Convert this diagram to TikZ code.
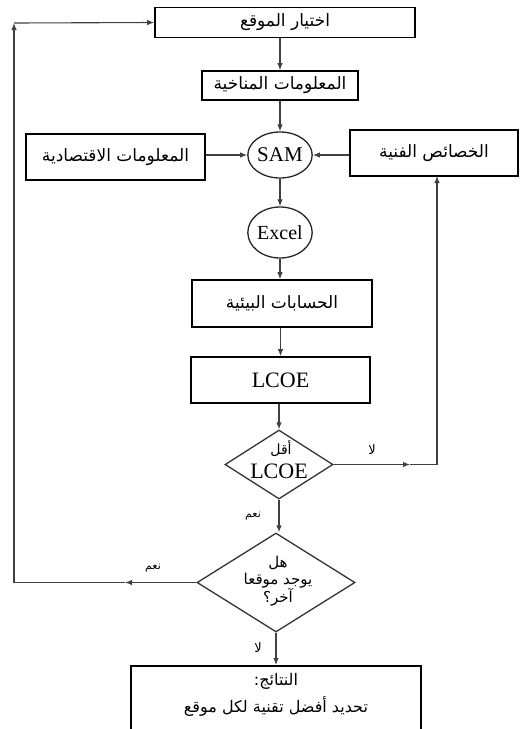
\documentclass[tikz,border=0pt]{standalone}
\usepackage{fontspec}
\setmainfont{Liberation Serif}
\newfontfamily\arabicfont[Script=Arabic]{DejaVu Sans}
\TeXXeTstate=1
\usetikzlibrary{shapes.geometric,arrows.meta}
\tikzset{
  boxnode/.style={draw=black,line width=1.6pt,rectangle,inner sep=0pt,font=\arabicfont\fontsize{17}{20}\selectfont},
  ellnode/.style={draw=black!85,line width=1.3pt,ellipse,inner sep=0pt,font=\fontsize{21}{24}\selectfont},
  dianode/.style={draw=black!80,line width=1.3pt,diamond,inner sep=0pt,aspect=1},
  txt/.style={inner sep=0pt,align=center},
  lab/.style={inner sep=0pt,font=\arabicfont\fontsize{11}{12}\selectfont},
  conn/.style={draw=black!75,line width=1.1pt},
  arr/.style={conn,-{Latex[length=7pt,width=5.5pt]}},
}
\begin{document}
\begin{tikzpicture}[x=1pt,y=-1pt]
\useasboundingbox (0,0) rectangle (522,729);
\clip (0,0) rectangle (522,729);
% nodes
\node[boxnode,minimum width=260pt,minimum height=30pt] (box1) at (285,22.5) {\beginR اختيار الموقع\endR};
\node[boxnode,minimum width=156pt,minimum height=29pt] (box2) at (280,85.5) {\beginR المعلومات المناخية\endR};
\node[boxnode,minimum width=179pt,minimum height=46pt] (econ) at (115.5,157) {\beginR المعلومات الاقتصادية\endR};
\node[boxnode,minimum width=168pt,minimum height=46pt] (tech) at (434,153) {\beginR الخصائص الفنية\endR};
\node[ellnode,minimum width=64pt,minimum height=46pt] (sam) at (280,155) {SAM};
\node[ellnode,minimum width=64pt,minimum height=51pt,font=\fontsize{20}{24}\selectfont] (excel) at (280,232.5) {Excel};
\node[boxnode,minimum width=180pt,minimum height=47pt] (env) at (282,303.5) {\beginR الحسابات البيئية\endR};
\node[boxnode,minimum width=179pt,minimum height=46pt,font=\fontsize{22}{24}\selectfont] (lcoe) at (280.5,380) {LCOE};
\node[dianode,minimum width=108pt,minimum height=69pt] (d1) at (279,464.5) {};
\node[txt,font=\arabicfont\fontsize{14}{16}\selectfont] (d1a) at (281,449) {\beginR أقل\endR};
\node[txt,font=\fontsize{22}{24}\selectfont] (d1b) at (279,471) {LCOE};
\node[dianode,minimum width=158pt,minimum height=99pt] (d2) at (276,582.5) {};
\node[txt,font=\arabicfont\fontsize{15}{17}\selectfont] (d2t) at (278,581) {\beginR هل\endR\\\beginR يوجد موقعا\endR\\\beginR آخر؟\endR};
\node[boxnode,minimum width=290pt,minimum height=110pt,anchor=north] (res) at (276,665) {};
\node[txt,font=\arabicfont\fontsize{16}{27}\selectfont] (rest) at (276,695) {\beginR النتائج:\endR\\\beginR تحديد أفضل تقنية لكل موقع\endR};
% labels
\node[lab,font=\arabicfont\fontsize{13}{14}\selectfont] (l1) at (372,450) {\beginR لا\endR};
\node[lab] (l2) at (253,516) {\beginR نعم\endR};
\node[lab] (l3) at (153,568) {\beginR نعم\endR};
\node[lab,font=\arabicfont\fontsize{13}{14}\selectfont] (l4) at (258,648) {\beginR لا\endR};
% coordinates
\coordinate (ra) at (410,464.5);
\coordinate (rc) at (437,464.5);
\coordinate (rt) at (437,176);
\coordinate (la) at (125,582.5);
\coordinate (lc) at (14,582.5);
\coordinate (ltop) at (14,23);
% connectors
\draw[arr] (box2.north |- box1.south) -- (box2.north);
\draw[arr] (box2.south) -- (sam.north);
\draw[arr] (econ.east |- sam.west) -- (sam.west);
\draw[arr] (tech.west |- sam.east) -- (sam.east);
\draw[arr] (sam.south) -- (excel.north);
\draw[arr] (excel.south) -- (excel.south |- env.north);
\draw[arr] (env.south -| lcoe.north) -- (lcoe.north);
\draw[arr] (lcoe.south -| d1.north) -- (d1.north);
\draw[arr] (d1.east) -- (ra);
\draw[conn] (ra) -- (rc);
\draw[arr] (rc) -- (rt);
\draw[arr] (d1.south) -- (d1.south |- d2.north);
\draw[arr] (d2.west) -- (la);
\draw[conn] (la) -- (lc);
\draw[arr] (lc) -- (ltop);
\draw[arr] (ltop) -- (box1.west);
\draw[arr] (d2.south) -- (d2.south |- res.north);
\end{tikzpicture}
\end{document}
